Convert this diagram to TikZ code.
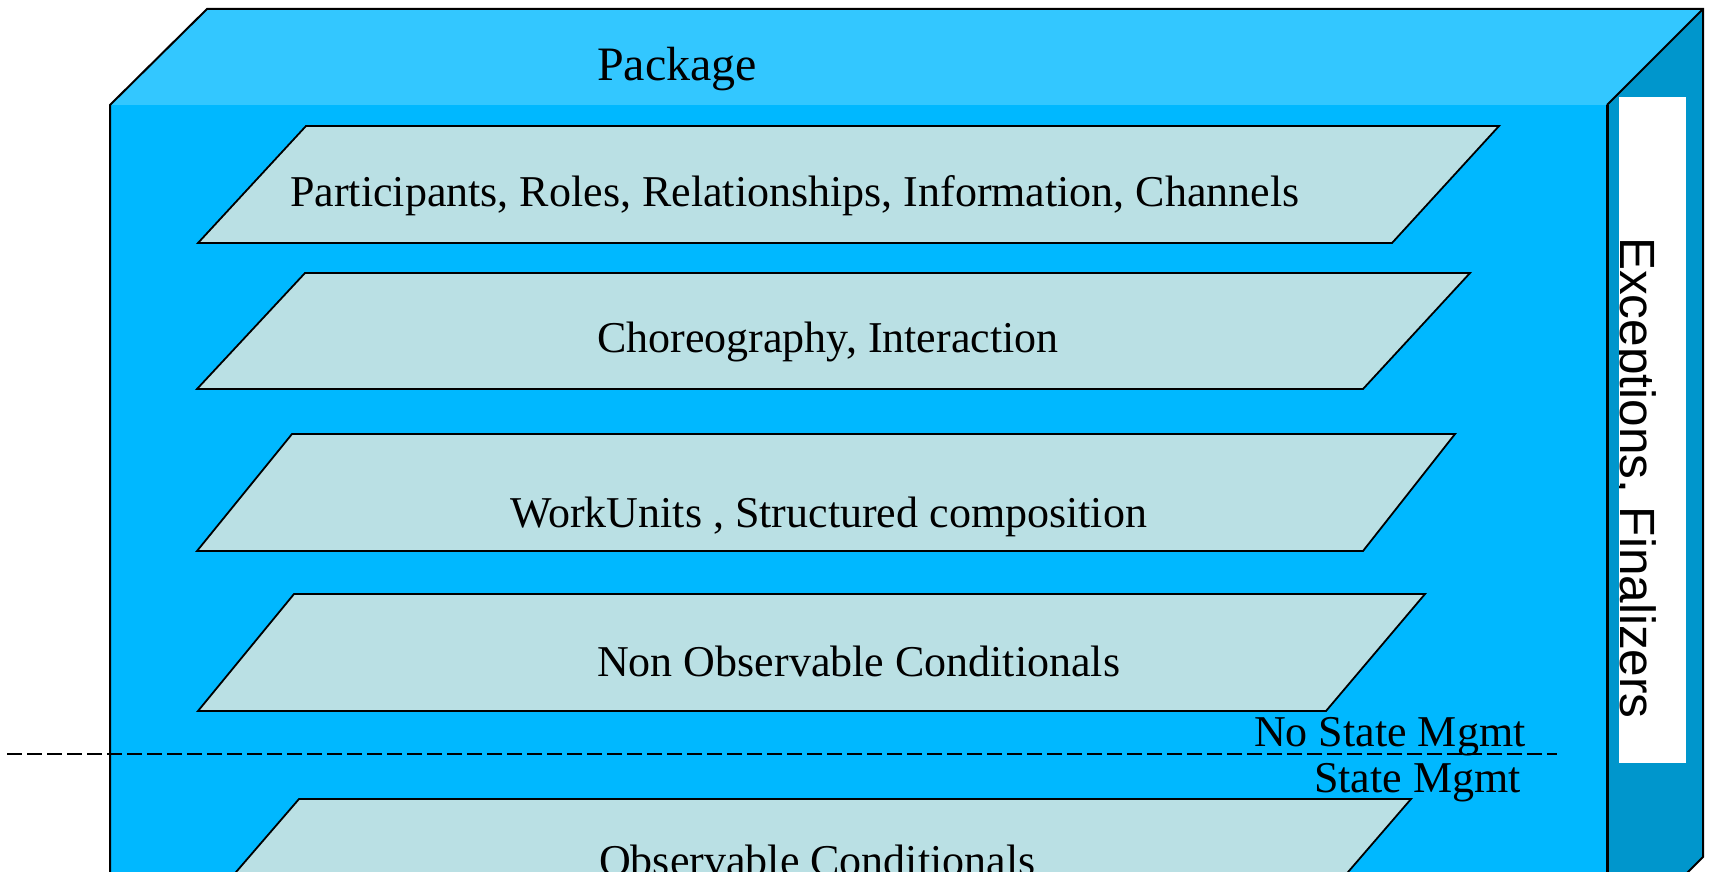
\documentclass[tikz,border=0pt]{standalone}
\usepackage{fontspec}
\setmainfont{Liberation Serif}
\newfontfamily\sansf{Liberation Sans}
\definecolor{frontc}{RGB}{0,184,255}
\definecolor{topc}{RGB}{51,199,255}
\definecolor{sidec}{RGB}{0,150,204}
\definecolor{layerc}{RGB}{186,224,228}
\begin{document}
\begin{tikzpicture}[x=1pt,y=-1pt,
  layer/.style={fill=layerc,draw=black,line width=1.8pt,line join=miter},
  edge/.style={draw=black,line width=2pt,line join=miter},
  lbl/.style={inner sep=0pt,anchor=base west,font=\fontsize{44}{44}\selectfont},
  sidelbl/.style={inner sep=0pt,anchor=base west,rotate=-90,font=\sansf\fontsize{49.5}{49.5}\selectfont},
  sep/.style={draw=black,line width=1.8pt,dash pattern=on 15pt off 5pt}]
\clip (0,0) rectangle (1710,872);
% faces
\fill[topc] (110,105) -- (207,9) -- (1703,9) -- (1607,105) -- cycle;
\fill[sidec] (1607,105) -- (1703,9) -- (1703,857) -- (1607,953) -- cycle;
\fill[frontc] (110,105) rectangle (1607,920);
% outlines
\draw[edge] (110,920) -- (110,105) -- (207,9) -- (1703,9) -- (1703,857) -- (1607,953);
\draw[edge] (1703,9) -- (1607,105);
\draw[draw=black,line width=3pt] (1607,105) -- (1607,920);
% white strip on side
\fill[white] (1619,97) rectangle (1686,763);
% layers
\draw[layer] (306,126) -- (1499,126) -- (1392,243) -- (198,243) -- cycle;
\draw[layer] (305,273) -- (1470,273) -- (1363,389) -- (197,389) -- cycle;
\draw[layer] (292,434) -- (1455,434) -- (1363,551) -- (197,551) -- cycle;
\draw[layer] (294,594) -- (1425,594) -- (1326,711) -- (198,711) -- cycle;
\draw[layer] (299,799) -- (1411,799) -- (1311,915) -- (199,915) -- cycle;
% labels
\node[lbl,font=\fontsize{48}{48}\selectfont] (pkg) at (597,81) {Package};
\node[lbl] (l1) at (290,206) {Participants, Roles, Relationships, Information, Channels};
\node[lbl] (l2) at (597,352) {Choreography, Interaction};
\node[lbl] (l3) at (510,527) {WorkUnits , Structured composition};
\node[lbl] (l4) at (597,676) {Non Observable Conditionals};
\node[lbl] (l5) at (599,875) {Observable Conditionals};
% state separator
\coordinate (sepL) at (7,754);
\coordinate (sepR) at (1557,754);
\draw[sep] (sepL) -- (sepR);
\node[lbl] (nsm) at (1254,746) {No State Mgmt};
\node[lbl] (sm) at (1314,792) {State Mgmt};
% side label
\begin{scope}
\clip (1619,97) rectangle (1686,763);
\node[sidelbl] (exc) at (1620,237) {Exceptions, Finalizers};
\end{scope}
\end{tikzpicture}
\end{document}
